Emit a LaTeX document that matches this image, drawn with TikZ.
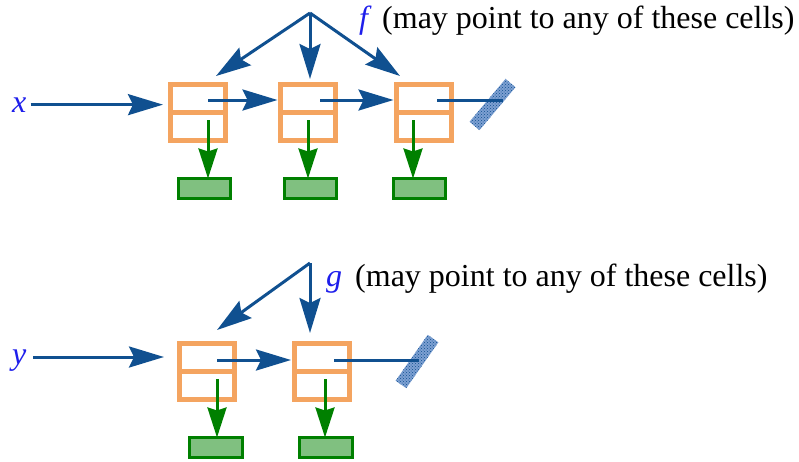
\documentclass[tikz,border=0pt]{standalone}
\usepackage{fontspec}
\setmainfont{Liberation Serif}
\newfontfamily\timesfam{Liberation Serif}
\usetikzlibrary{arrows.meta,calc,patterns}
\definecolor{ablue}{RGB}{16,80,144}
\definecolor{cellor}{RGB}{244,164,96}
\definecolor{gline}{RGB}{0,128,0}
\definecolor{gfill}{RGB}{128,192,128}
\definecolor{lblue}{RGB}{30,30,235}
\definecolor{hatchc}{RGB}{125,160,210}
\begin{document}
\begin{tikzpicture}[x=1pt,y=-1pt,
  barrow/.style={draw=ablue,line width=3pt,-{Stealth[length=35pt,width=21pt,inset=5pt]}},
  bline/.style={draw=ablue,line width=3pt},
  garrow/.style={draw=gline,line width=3pt,-{Stealth[length=30pt,width=19pt,inset=3pt]}},
  cell/.style={draw=cellor,line width=5pt,minimum width=55pt,minimum height=56pt,inner sep=0pt,outer sep=0pt},
  divider/.style={draw=cellor,line width=5pt},
  databox/.style={draw=gline,fill=gfill,line width=3pt,minimum width=52pt,minimum height=20pt,inner sep=0pt,outer sep=0pt},
  hatch/.style={fill=hatchc,postaction={pattern=crosshatch dots,pattern color=ablue},minimum width=56pt,minimum height=13pt,inner sep=0pt},
  var/.style={text=lblue,font=\timesfam\fontsize{32}{38}\selectfont\itshape,inner sep=0pt},
  note/.style={font=\timesfam\fontsize{32}{38}\selectfont,inner sep=0pt}]
\useasboundingbox (0,0) rectangle (799,461);

% ---------- upper list ----------
\node[cell] (c1) at (198,112.5) {};
\node[cell] (c2) at (307.5,112.5) {};
\node[cell] (c3) at (423.5,112.5) {};
\foreach \c in {c1,c2,c3} \draw[divider] (\c.west) -- (\c.east);
\node[databox] (d1) at (204.5,188.5) {};
\node[databox] (d2) at (310.5,188.5) {};
\node[databox] (d3) at (419.5,188.5) {};
\node[hatch,rotate=50] (h1) at (492.5,104.5) {};

\node[var,anchor=base west] (xl) at (12,112) {x};
\node[var,anchor=base west] (fl) at (359,28) {f};
\node[note,anchor=base west] (ft) at (382,28) {(may point to any of these cells)};

\draw[barrow,shorten <=4pt,shorten >=7.5pt] (xl.east) -- (xl.east -| c1.west);
\coordinate (s1) at (208,100);
\coordinate (s2) at (320,100);
\coordinate (s3) at (437,100);
\coordinate (e3) at (503,100);
\draw[barrow,shorten >=2.5pt] (s1) -- (s1 -| c2.west);
\draw[barrow,shorten >=2.5pt] (s2) -- (s2 -| c3.west);
\draw[bline] (s3) -- (e3);
\coordinate (g1) at (208,120);
\coordinate (g2) at (308,120);
\coordinate (g3) at (413,120);
\draw[garrow] (g1) -- (g1 |- d1.north);
\draw[garrow] (g2) -- (g2 |- d2.north);
\draw[garrow] (g3) -- (g3 |- d3.north);
\coordinate (fa) at (310,13);
\coordinate (ft1) at (216,76);
\coordinate (ft2) at (310,79);
\coordinate (ft3) at (400,76);
\draw[barrow] (fa) -- (ft1);
\draw[barrow] (fa) -- (ft2);
\draw[barrow] (fa) -- (ft3);

% ---------- lower list ----------
\node[cell] (c4) at (207,371.5) {};
\node[cell] (c5) at (322,371.5) {};
\foreach \c in {c4,c5} \draw[divider] (\c.west) -- (\c.east);
\node[databox,minimum width=53pt] (d4) at (216,447.5) {};
\node[databox,minimum width=53pt] (d5) at (325.5,447.5) {};
\node[hatch,rotate=55] (h2) at (417,361.5) {};

\node[var,anchor=base west] (yl) at (12,364) {y};
\node[var,anchor=base west] (gl) at (326,286) {g};
\node[note,anchor=base west] (gt) at (355,286) {(may point to any of these cells)};

\coordinate (ys) at (33,357);
\draw[barrow,shorten >=15.5pt] (ys) -- (ys -| c4.west);
\coordinate (s4) at (217,360);
\coordinate (s5) at (334,360);
\coordinate (e5) at (419,360);
\draw[barrow,shorten >=3.5pt] (s4) -- (s4 -| c5.west);
\draw[bline] (s5) -- (e5);
\coordinate (g4) at (217,379);
\coordinate (g5) at (325,379);
\draw[garrow] (g4) -- (g4 |- d4.north);
\draw[garrow] (g5) -- (g5 |- d5.north);
\coordinate (ga) at (310,263);
\coordinate (gt1) at (217,330);
\coordinate (gt2) at (310,333);
\draw[barrow] (ga) -- (gt1);
\draw[barrow] (ga) -- (gt2);
\end{tikzpicture}
\end{document}
